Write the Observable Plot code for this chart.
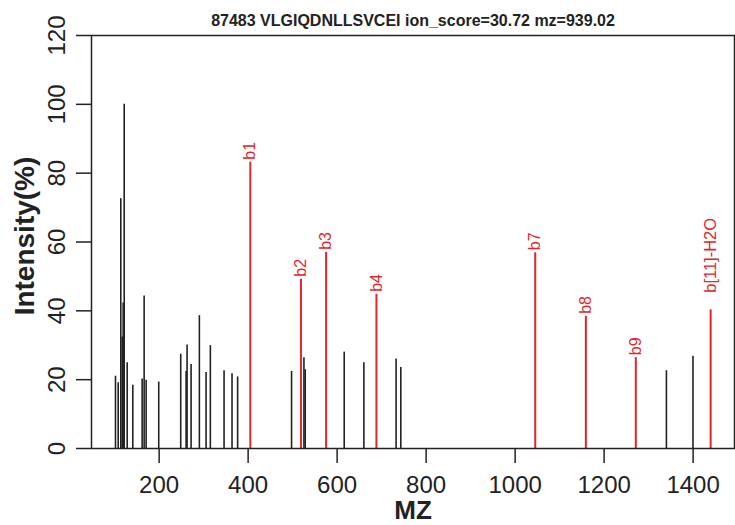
<!DOCTYPE html>
<html>
<head>
<meta charset="utf-8">
<script src="https://cdn.jsdelivr.net/npm/d3@7"></script>
<script src="https://cdn.jsdelivr.net/npm/@observablehq/plot@0.6"></script>
<style>
  html, body { margin: 0; padding: 0; background: #fff; }
  #chart svg { display: block; }
</style>
</head>
<body>
<div id="chart"></div>
<script>
const title = "87483 VLGIQDNLLSVCEI ion_score=30.72 mz=939.02";

// unmatched peaks (black)
const peakMz  = [101.9, 108, 113.8, 117, 119.2, 121.5, 128.2, 140.8, 161.8, 166.3, 170.8, 199.1,
                 248.5, 260.6, 262.8, 271.8, 290.4, 305.5, 315.1, 345.9, 363.8, 376.4,
                 497.6, 525.4, 528.3, 615.9, 660.1, 732.5, 743.1, 1340, 1399.7];
const peakInt = [21.0, 19.1, 72.6, 32.4, 42.3, 100, 24.9, 18.4, 20.2, 44.3, 19.8, 19.3,
                 27.4, 22.4, 30.1, 24.4, 38.6, 22.1, 29.9, 22.6, 21.7, 20.8,
                 22.4, 26.4, 22.9, 28.0, 24.9, 26.0, 23.5, 22.6, 26.8];

// matched ions (red)
const ionLabel = ["b1", "b2", "b3", "b4", "b7", "b8", "b9", "b[11]-H2O"];
const ionMz    = [404.9, 518.7, 575.2, 688.3, 1045.2, 1159, 1271.2, 1439.4];
const ionInt   = [83.2, 49.2, 57.0, 44.8, 56.9, 38.4, 26.4, 40.3];

const xTicks = [200, 400, 600, 800, 1000, 1200, 1400];
const yTicks = [0, 20, 40, 60, 80, 100, 120];

const peaks = peakMz.map((m, i) => ({mz: m, intensity: peakInt[i]}));
const ions = ionMz.map((m, i) => ({mz: m, intensity: ionInt[i], label: ionLabel[i]}));
const shortIons = ions.filter(d => d.label.length <= 3);
const longIons = ions.filter(d => d.label.length > 3);

const RED = "#e3262b";
const INK = "#222";

const chart = Plot.plot({
  width: 735,
  height: 525,
  marginLeft: 91,
  marginRight: 1,
  marginTop: 35,
  marginBottom: 77,
  style: {fontFamily: "'Liberation Sans', Arial, sans-serif", background: "#fff", color: INK},
  x: {domain: [48, 1493]},
  y: {domain: [0, 120]},
  marks: [
    Plot.ruleX(peaks, {x: "mz", y1: 0, y2: "intensity", stroke: INK, strokeWidth: 1.6}),
    Plot.ruleX(ions, {x: "mz", y1: 0, y2: "intensity", stroke: RED, strokeWidth: 2}),
    Plot.text(shortIons, {x: "mz", y: "intensity", text: "label", rotate: -90, textAnchor: "start",
                          lineAnchor: "middle", dy: -2.5, fill: RED, fontSize: 16}),
    Plot.text(longIons, {x: "mz", y: "intensity", text: "label", rotate: -90, textAnchor: "start",
                         lineAnchor: "middle", dy: -17, fill: RED, fontSize: 16.5}),
    Plot.axisX({ticks: xTicks, tickSize: 15, tickPadding: 12, fontSize: 24, label: null,
                tickFormat: d => String(d), stroke: INK, strokeWidth: 1.5, fill: INK}),
    Plot.axisY({ticks: yTicks, tickSize: 15, tickFormat: () => "", label: null,
                stroke: INK, strokeWidth: 1.5}),
    Plot.text(yTicks, {y: d => d, text: d => String(d), frameAnchor: "left", dx: -34,
                       rotate: -90, textAnchor: "middle", lineAnchor: "middle", fontSize: 24, fill: INK}),
    Plot.frame({stroke: INK, strokeWidth: 1.5}),
    Plot.text([title], {frameAnchor: "top", dy: -15, text: d => d, fontSize: 16, fontWeight: "bold",
                        textAnchor: "middle", lineAnchor: "middle", fill: INK}),
    Plot.text(["MZ"], {frameAnchor: "bottom", dy: 62, text: d => d, fontSize: 26, fontWeight: "bold",
                       textAnchor: "middle", lineAnchor: "middle", fill: INK}),
    Plot.text(["Intensity(%)"], {frameAnchor: "left", dx: -66, dy: -6, text: d => d, rotate: -90, fontSize: 28,
                                 fontWeight: "bold", textAnchor: "middle", lineAnchor: "middle", fill: INK})
  ]
});
document.getElementById("chart").appendChild(chart);
</script>
</body>
</html>
